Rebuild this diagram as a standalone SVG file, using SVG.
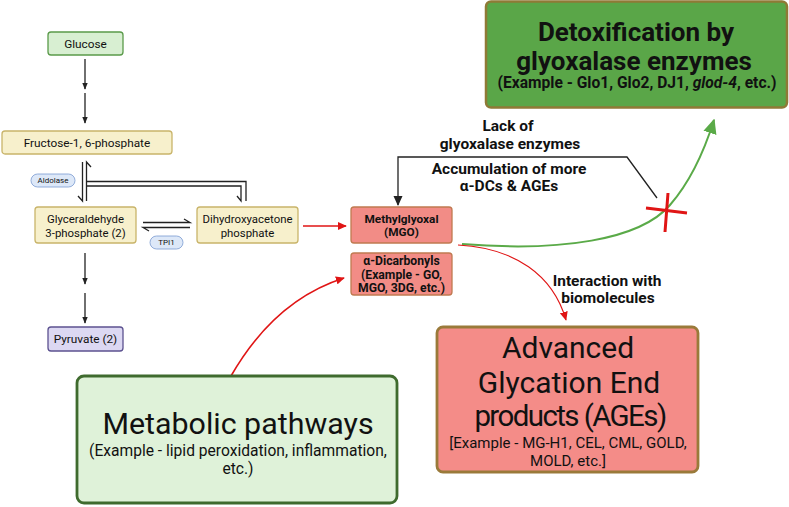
<svg xmlns="http://www.w3.org/2000/svg" width="789" height="507" viewBox="0 0 789 507">
<defs>
<style>
text{font-family:Roboto,"Liberation Sans",sans-serif;fill:#111;text-anchor:middle;dominant-baseline:central}
.s{font-size:11.8px}
.s2{font-size:11.4px}
.pill{font-size:8px}
.b{font-weight:bold}
.lab{font-size:15.5px;font-weight:bold}
.yel{fill:#f7f0cc;stroke:#c9b46a;stroke-width:1.3}
.blk{fill:none;stroke:#222;stroke-width:1.3}
.red{fill:none;stroke:#e01515;stroke-width:1.6}
</style>
<marker id="ab" viewBox="0 0 10 10" refX="9" refY="5" markerUnits="userSpaceOnUse" markerWidth="7" markerHeight="7" orient="auto"><path d="M0,1 L10,5 L0,9 z" fill="#222"/></marker>
<marker id="ab2" viewBox="0 0 10 10" refX="9" refY="5" markerUnits="userSpaceOnUse" markerWidth="10" markerHeight="10" orient="auto"><path d="M0,0.5 L10,5 L0,9.5 z" fill="#222"/></marker>
<marker id="ar" viewBox="0 0 10 10" refX="9" refY="5" markerUnits="userSpaceOnUse" markerWidth="9" markerHeight="9" orient="auto"><path d="M0,0.5 L10,5 L0,9.5 z" fill="#e01515"/></marker>
<marker id="ag" viewBox="0 0 10 10" refX="9" refY="5" markerUnits="userSpaceOnUse" markerWidth="15" markerHeight="15" orient="auto"><path d="M0,0.5 L10,5 L0,9.5 z" fill="#5aaa48"/></marker>
</defs>
<rect width="789" height="507" fill="#fff"/>

<g id="connectors">
<path class="blk" d="M85,59 V89" marker-end="url(#ab)"/>
<path class="blk" d="M85,93 V123" marker-end="url(#ab)"/>
<path class="blk" d="M82.5,162 V201 L78,196"/>
<path class="blk" d="M91,167 L86.5,162 V201"/>
<path class="blk" d="M86.5,181.5 H246 V201"/>
<path class="blk" d="M86.5,186 H241 V201 L237,196"/>
<path class="blk" d="M143,222.5 H190 L184,219"/>
<path class="blk" d="M149,231 L143,227.5 H190"/>
<path class="blk" d="M85,253 V284" marker-end="url(#ab)"/>
<path class="blk" d="M85,293 V323" marker-end="url(#ab)"/>
<path class="red" d="M303,226 H346" marker-end="url(#ar)"/>
<path class="blk" stroke-width="1.8" d="M657,198 L627,157 H398 V205" marker-end="url(#ab2)"/>
<path fill="none" stroke="#5aaa48" stroke-width="2" d="M462,244 C560,252 640,240 670,205 C690,182 703,155 714,120" marker-end="url(#ag)"/>
<path fill="none" stroke="#e01515" stroke-width="1.1" d="M458,245 C515,248 553,275 566,320" marker-end="url(#ar)"/>
<path class="red" stroke-width="2" d="M231,376 C262,322 300,292 344,278" marker-end="url(#ar)"/>
<path fill="none" stroke="#e01515" stroke-width="3" d="M646,208 L687,213 M668,193 L665,232"/>
</g>

<g id="glucose">
<rect x="48" y="32" width="75" height="23" rx="3" fill="#d8efd2" stroke="#5a9a4a" stroke-width="1.3"/>
<text class="s" x="85.5" y="43.5">Glucose</text>
</g>
<g id="fructose">
<rect class="yel" x="2" y="131" width="170" height="23" rx="3"/>
<text class="s" x="87" y="142.5">Fructose-1, 6-phosphate</text>
</g>
<g id="aldolase">
<rect x="31" y="174" width="44" height="13" rx="6.5" fill="#dde8f8" stroke="#7a9ad0" stroke-width="0.8"/>
<text class="pill" x="53" y="180.5">Aldolase</text>
</g>
<g id="g3p">
<rect class="yel" x="35" y="207" width="101" height="36" rx="3"/>
<text class="s2" x="85.5" y="218.5">Glyceraldehyde</text>
<text class="s2" x="85.5" y="232.5">3-phosphate (2)</text>
</g>
<g id="dhap">
<rect class="yel" x="197" y="207" width="101" height="36" rx="3"/>
<text class="s2" x="247.5" y="218.5">Dihydroxyacetone</text>
<text class="s2" x="247.5" y="232.5">phosphate</text>
</g>
<g id="tpi1">
<rect x="150" y="236" width="33" height="13" rx="6.5" fill="#dde8f8" stroke="#7a9ad0" stroke-width="0.8"/>
<text class="pill" x="166.5" y="242.5">TPI1</text>
</g>
<g id="pyruvate">
<rect x="48" y="327" width="75" height="24" rx="3" fill="#dcd8f2" stroke="#5c5290" stroke-width="1.3"/>
<text class="s" x="85.5" y="339">Pyruvate (2)</text>
</g>
<g id="mgo">
<rect x="351" y="207" width="101" height="36" rx="3" fill="#f28c86" stroke="#c07a50" stroke-width="1.3"/>
<text class="b" font-size="11.8" x="401.5" y="218.5">Methylglyoxal</text>
<text class="b" font-size="11.8" x="401.5" y="232">(MGO)</text>
</g>
<g id="dicarbonyls">
<rect x="351" y="253" width="101" height="42" rx="3" fill="#f28c86" stroke="#c07a50" stroke-width="1.3"/>
<text class="b" font-size="12.2" x="401.5" y="261">α-Dicarbonyls</text>
<text class="b" font-size="12.2" x="401.5" y="274.5">(Example - GO,</text>
<text class="b" font-size="12.2" x="401.5" y="288">MGO, 3DG, etc.)</text>
</g>
<g id="feedback-label">
<text class="lab" x="508" y="126">Lack of</text>
<text class="lab" x="510" y="144">glyoxalase enzymes</text>
<text class="lab" x="509" y="169">Accumulation of more</text>
<text class="lab" x="509" y="186">α-DCs &amp; AGEs</text>
</g>
<g id="detox">
<rect x="486" y="1.5" width="301" height="106" rx="5" fill="#5aa648" stroke="#8f7a36" stroke-width="2.5"/>
<text class="b" font-size="26" x="636" y="32">Detoxification by</text>
<text class="b" font-size="26" x="634" y="61">glyoxalase enzymes</text>
<text class="b" font-size="15.6" x="637" y="83">(Example - Glo1, Glo2, DJ1, <tspan font-style="italic">glod-4</tspan>, etc.)</text>
</g>
<g id="interaction-label">
<text class="lab" x="607" y="281">Interaction with</text>
<text class="lab" x="608" y="298">biomolecules</text>
</g>
<g id="ages">
<rect x="437" y="327" width="261" height="145" rx="6" fill="#f48c88" stroke="#9a7a3a" stroke-width="2.8"/>
<text font-size="30" x="568" y="347">Advanced</text>
<text font-size="30" x="569" y="382">Glycation End</text>
<text font-size="29.5" letter-spacing="-1.6" x="570" y="416">products (AGEs)</text>
<text font-size="15" x="568" y="443">[Example - MG-H1, CEL, CML, GOLD,</text>
<text font-size="15" x="568" y="461">MOLD, etc.]</text>
</g>
<g id="metabolic">
<rect x="77" y="376" width="320" height="127" rx="7" fill="#dff2d9" stroke="#3f6b2e" stroke-width="2.8"/>
<text font-size="30.4" x="238" y="423">Metabolic pathways</text>
<text font-size="15.6" x="238" y="451">(Example - lipid peroxidation, inflammation,</text>
<text font-size="15.6" x="238" y="469">etc.)</text>
</g>
</svg>
